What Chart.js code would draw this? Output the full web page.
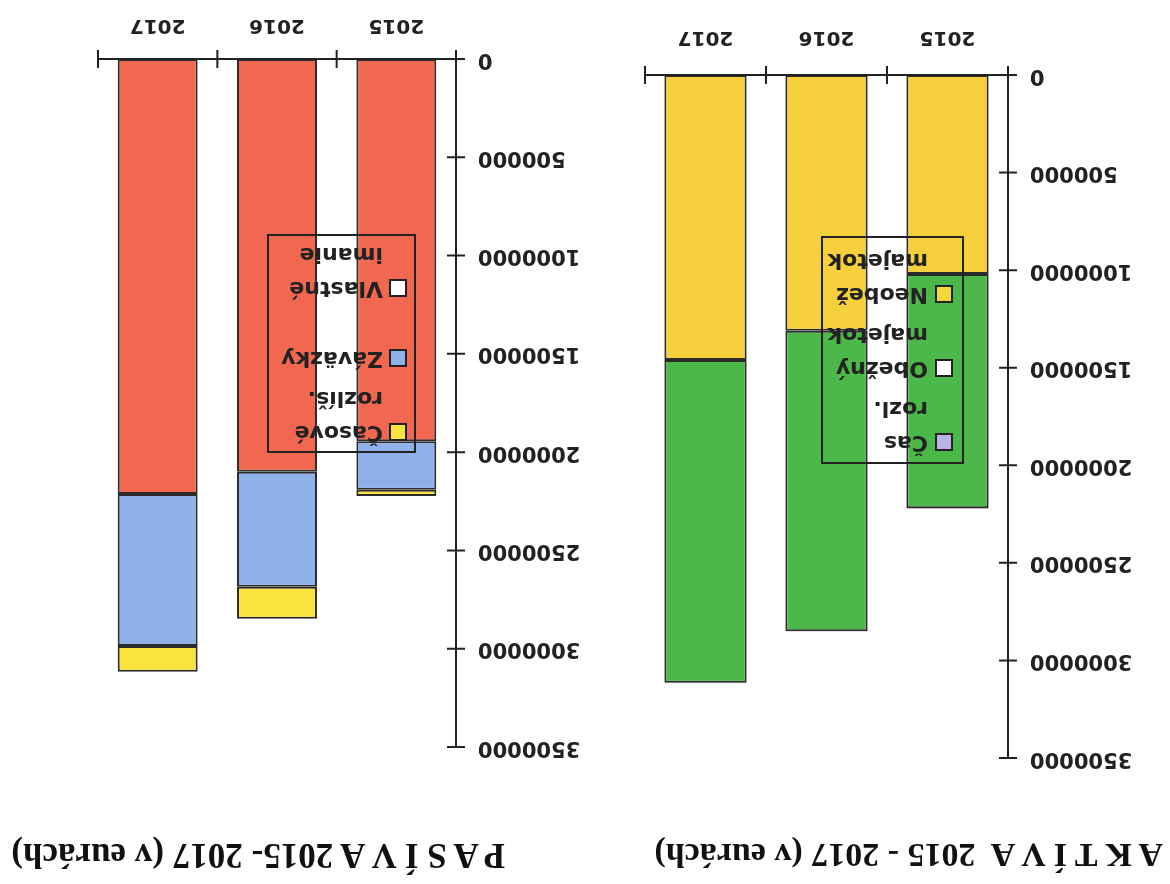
<!DOCTYPE html>
<html>
<head>
<meta charset="utf-8">
<script src="https://cdn.jsdelivr.net/npm/chart.js@4/dist/chart.umd.min.js"></script>
<style>
  html, body { margin: 0; padding: 0; background: #fff; }
  /* the scanned page is upside down, so the whole sheet is turned */
  #page { position: relative; width: 1170px; height: 884px; overflow: hidden; transform: rotate(180deg); }
  .title { position: absolute; top: 10px; font: bold 34px "Liberation Serif", "Times New Roman", serif; color: #111; white-space: pre; }
  canvas { position: absolute; }
</style>
</head>
<body>
<div id="page">
  <div class="title" style="left:7px">A K T Í V A  2015 - 2017 (v eurách)</div>
  <div class="title" style="left:665px;font-size:35px;top:9px">P A S Í V A 2015- 2017 (v eurách)</div>
  <canvas id="aktiva" width="530" height="790" style="left:20px;top:90px"></canvas>
  <canvas id="pasiva" width="530" height="780" style="left:575px;top:100px"></canvas>
</div>
<script>
// data (v eurách)
const years = ['2015', '2016', '2017'];

const neobeznyMajetok = [1020000, 1310000, 1460000];
const obeznyMajetok = [1200000, 1540000, 1655000];
const casRozl = [3000, 2000, 2000];

const vlastneImanie = [1945000, 2100000, 2213000];
const zavazky = [246000, 585000, 773000];
const casoveRozlis = [32000, 163000, 131000];

const aktivaLegend = [['Neobež', 'majetok'], ['Obežný', 'majetok'], ['Čas', 'rozl.']];
const pasivaLegend = [['Vlastné', 'imanie'], ['Záväzky'], ['Časové', 'rozlíš.']];

const FONT = 'DejaVu Sans';
const INK = '#222';

// axis lines with ticks crossing them, like the scanned original
const crossTicks = {
  id: 'crossTicks',
  afterDatasetsDraw(chart) {
    const { ctx, chartArea: a, scales: { x, y } } = chart;
    ctx.save();
    ctx.strokeStyle = INK;
    ctx.lineWidth = 2;
    ctx.beginPath();
    ctx.moveTo(a.left, a.top);
    ctx.lineTo(a.left, a.bottom);
    ctx.lineTo(a.right, a.bottom);
    y.ticks.forEach(t => {
      const py = y.getPixelForValue(t.value);
      ctx.moveTo(a.left - 9, py);
      ctx.lineTo(a.left + 9, py);
    });
    for (let i = 0; i <= x.ticks.length; i++) {
      const px = x.getPixelForValue(i - 0.5);
      ctx.moveTo(px, a.bottom - 9);
      ctx.lineTo(px, a.bottom + 9);
    }
    ctx.stroke();
    ctx.restore();
  }
};

// framed legend drawn over the bars, entries in reverse stack order
const boxLegend = {
  id: 'boxLegend',
  afterDatasetsDraw(chart, args, o) {
    const { ctx } = chart;
    const sets = chart.data.datasets;
    ctx.save();
    ctx.strokeStyle = INK;
    ctx.lineWidth = 2;
    ctx.strokeRect(o.left, o.top, o.width, o.height);
    ctx.font = `bold ${o.fontSize}px "${FONT}"`;
    ctx.fillStyle = INK;
    ctx.textBaseline = 'middle';
    ctx.textAlign = 'left';
    for (let i = sets.length - 1, k = 0; i >= 0; i--, k++) {
      const ds = sets[i];
      const cy = o.top + o.rows[k];
      ctx.fillStyle = ds.legendColor;
      ctx.fillRect(o.left + o.boxX, cy - 8, 16, 16);
      ctx.strokeRect(o.left + o.boxX, cy - 8, 16, 16);
      ctx.fillStyle = INK;
      ds.legendLines.forEach((line, j) => {
        ctx.fillText(line, o.left + o.textX, cy + j * 34);
      });
    }
    ctx.restore();
  }
};

function makeChart(id, datasets, L) {
  return new Chart(document.getElementById(id), {
    type: 'bar',
    data: { labels: years, datasets },
    plugins: [crossTicks, boxLegend],
    options: {
      responsive: false,
      animation: false,
      layout: { padding: L.padding },
      datasets: {
        bar: {
          barPercentage: L.bar, categoryPercentage: 1,
          borderColor: '#2b2b2b', borderWidth: 2, borderSkipped: false
        }
      },
      plugins: {
        legend: { display: false },
        tooltip: { enabled: false },
        boxLegend: L.legend
      },
      scales: {
        x: {
          stacked: true,
          grid: { display: false, drawTicks: false },
          border: { display: false },
          ticks: { padding: L.xPad, color: INK, font: { family: FONT, weight: 'bold', size: 20 } },
          afterFit: s => { s.height = L.xHeight; }
        },
        y: {
          stacked: true, min: 0, max: 3500000,
          grid: { display: false, drawTicks: false },
          border: { display: false },
          ticks: {
            stepSize: 500000, padding: 22, color: INK,
            font: { family: FONT, weight: 'bold', size: 21 },
            callback: v => String(v)
          },
          afterFit: s => { s.width = L.yWidth; }
        }
      }
    }
  });
}

makeChart('aktiva', [
  { label: 'Neobež majetok', legendLines: aktivaLegend[0], data: neobeznyMajetok, backgroundColor: '#f6d03c', legendColor: '#f6d83c' },
  { label: 'Obežný majetok', legendLines: aktivaLegend[1], data: obeznyMajetok, backgroundColor: '#4db84a', legendColor: '#ffffff' },
  { label: 'Čas rozl.', legendLines: aktivaLegend[2], data: casRozl, backgroundColor: '#b9b3e3', legendColor: '#b9b3e3' }
], {
  padding: { left: 0, right: 25, top: 36, bottom: 11 },
  yWidth: 142, xHeight: 60, xPad: 26, bar: 0.68,
  legend: { left: 187, top: 331, width: 141, height: 226, boxX: 11, textX: 35, fontSize: 22, rows: [21, 95, 169] }
});

makeChart('pasiva', [
  { label: 'Vlastné imanie', legendLines: pasivaLegend[0], data: vlastneImanie, backgroundColor: '#f2674f', legendColor: '#ffffff' },
  { label: 'Záväzky', legendLines: pasivaLegend[1], data: zavazky, backgroundColor: '#8eb1ea', legendColor: '#8eb1ea' },
  { label: 'Časové rozlíš.', legendLines: pasivaLegend[2], data: casoveRozlis, backgroundColor: '#f8e43c', legendColor: '#f8e43c' }
], {
  padding: { left: 0, right: 33, top: 37, bottom: 10 },
  yWidth: 139, xHeight: 45, xPad: 22, bar: 0.67,
  legend: { left: 180, top: 332, width: 147, height: 217, boxX: 9, textX: 32, fontSize: 22, rows: [20, 94, 164] }
});
</script>
</body>
</html>
